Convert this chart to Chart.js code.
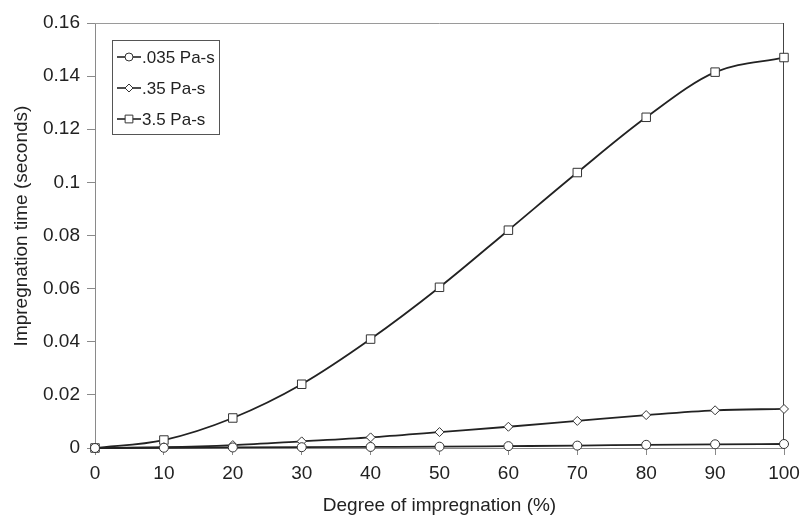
<!DOCTYPE html>
<html>
<head>
<meta charset="utf-8">
<script src="https://cdn.jsdelivr.net/npm/chart.js@4/dist/chart.umd.min.js"></script>
<style>
html,body{margin:0;padding:0;background:#fff;}
#wrap{width:801px;height:519px;}
</style>
</head>
<body>
<div id="wrap"><canvas id="c" width="801" height="519"></canvas></div>
<script>
const degrees = [0, 10, 20, 30, 40, 50, 60, 70, 80, 90, 100];
const visc035 = [0, 0.0001, 0.0002, 0.0003, 0.0004, 0.0005, 0.0007, 0.0009, 0.0012, 0.0014, 0.0015];
const visc35 = [0, 0.0003, 0.0011, 0.0025, 0.004, 0.006, 0.008, 0.0102, 0.0124, 0.0142, 0.0147];
const visc3_5 = [0, 0.003, 0.0113, 0.024, 0.041, 0.0605, 0.082, 0.1037, 0.1245, 0.1415, 0.147];
const seriesNames = ['.035 Pa-s', '.35 Pa-s', '3.5 Pa-s'];
const yTicks = [0, 0.02, 0.04, 0.06, 0.08, 0.1, 0.12, 0.14, 0.16];
const xTicks = [0, 10, 20, 30, 40, 50, 60, 70, 80, 90, 100];
const xTitle = 'Degree of impregnation (%)';
const yTitle = 'Impregnation time (seconds)';

const FONT = '"Liberation Sans", Arial, sans-serif';
const INK = '#222';
const AXIS = '#8a8a8a';

function mk(data, name, style, r) {
  return {
    label: name,
    data: degrees.map((x, i) => ({x: x, y: data[i]})),
    borderColor: INK,
    borderWidth: 1.8,
    backgroundColor: '#fff',
    pointStyle: style,
    pointRadius: r,
    pointBorderWidth: 1,
    pointBorderColor: '#333',
    pointBackgroundColor: '#fff',
    tension: 0.4,
    cubicInterpolationMode: 'monotone',
    fill: false,
    clip: false
  };
}

const frame = {
  id: 'frame',
  beforeDatasetsDraw(chart) {
    const {ctx, chartArea: a} = chart;
    ctx.save();
    ctx.lineWidth = 1;
    ctx.strokeStyle = '#9a9a9a';
    ctx.beginPath();
    ctx.moveTo(a.left, a.top + 0.5);
    ctx.lineTo(a.right, a.top + 0.5);
    ctx.stroke();
    ctx.strokeStyle = '#444';
    ctx.beginPath();
    ctx.moveTo(a.right - 0.5, a.top);
    ctx.lineTo(a.right - 0.5, a.bottom);
    ctx.stroke();
    ctx.restore();
  },
  afterDraw(chart) {
    const ctx = chart.ctx;
    // y-axis title
    ctx.save();
    ctx.translate(22, 226);
    ctx.rotate(-Math.PI / 2);
    ctx.font = '19px ' + FONT;
    ctx.fillStyle = INK;
    ctx.textAlign = 'center';
    ctx.textBaseline = 'middle';
    ctx.fillText(yTitle, 0, 0);
    ctx.restore();
    // legend
    const styles = ['circle', 'rectRot', 'rect'];
    const rads = [4, 4, 5.5];
    const bx = 112, by = 40, bw = 107, bh = 94;
    ctx.save();
    ctx.fillStyle = '#fff';
    ctx.fillRect(bx, by, bw, bh);
    ctx.strokeStyle = '#555';
    ctx.lineWidth = 1;
    ctx.strokeRect(bx + 0.5, by + 0.5, bw, bh);
    ctx.font = '17px ' + FONT;
    ctx.textBaseline = 'middle';
    ctx.textAlign = 'left';
    for (let i = 0; i < 3; i++) {
      const y = by + 17 + i * 31;
      ctx.strokeStyle = INK;
      ctx.lineWidth = 1.6;
      ctx.beginPath();
      ctx.moveTo(117, y);
      ctx.lineTo(141, y);
      ctx.stroke();
      ctx.fillStyle = '#fff';
      ctx.strokeStyle = '#333';
      ctx.lineWidth = 1;
      Chart.helpers.drawPoint(ctx, {pointStyle: styles[i], radius: rads[i], borderWidth: 1}, 129, y);
      ctx.fillStyle = INK;
      ctx.fillText(seriesNames[i], 142, y + 1);
    }
    ctx.restore();
  }
};

new Chart(document.getElementById('c'), {
  type: 'line',
  data: {
    datasets: [
      mk(visc035, seriesNames[0], 'circle', 4.5),
      mk(visc35, seriesNames[1], 'rectRot', 4.5),
      mk(visc3_5, seriesNames[2], 'rect', 6)
    ]
  },
  options: {
    responsive: false,
    animation: false,
    devicePixelRatio: 1,
    layout: {padding: {left: 0, top: 23, right: 17, bottom: 0}},
    plugins: {legend: {display: false}, tooltip: {enabled: false}},
    scales: {
      x: {
        type: 'linear',
        min: 0, max: 100,
        afterBuildTicks(s) { s.ticks = xTicks.map(v => ({value: v})); },
        afterFit(s) { s.height = 71; s.paddingRight = 0; s.paddingLeft = 0; },
        grid: {drawOnChartArea: false, drawTicks: true, tickLength: 7, color: AXIS},
        border: {display: true, color: AXIS, width: 1},
        ticks: {color: INK, font: {family: FONT, size: 19}, padding: 7, maxRotation: 0},
        title: {display: true, text: xTitle, color: INK, font: {family: FONT, size: 19}, padding: {top: 2, bottom: 2}}
      },
      y: {
        type: 'linear',
        min: 0, max: 0.16,
        afterBuildTicks(s) { s.ticks = yTicks.map(v => ({value: v})); },
        afterFit(s) { s.width = 95; s.paddingTop = 0; s.paddingBottom = 0; },
        grid: {drawOnChartArea: false, drawTicks: true, tickLength: 8, color: AXIS},
        border: {display: true, color: AXIS, width: 1},
        ticks: {color: INK, font: {family: FONT, size: 19}, padding: 7, callback: v => String(Math.round(v * 100) / 100)},
        title: {display: false}
      }
    }
  },
  plugins: [frame]
});
</script>
</body>
</html>
